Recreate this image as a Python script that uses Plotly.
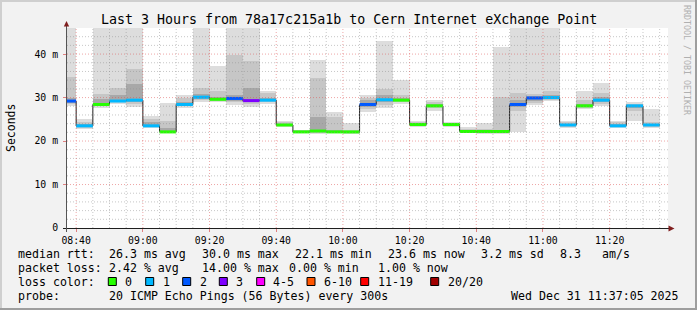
import plotly.graph_objects as go
import pandas as pd

DAY = "2025-12-31 "
STEP_MS = 300000  # 5-minute step

# ---- data ----
block_start = ["08:35", "08:40", "08:45", "08:50", "08:55", "09:00", "09:05", "09:10", "09:15",
               "09:20", "09:25", "09:30", "09:35", "09:40", "09:45", "09:50", "09:55", "10:00",
               "10:05", "10:10", "10:15", "10:20", "10:25", "10:30", "10:35", "10:40", "10:45",
               "10:50", "10:55", "11:00", "11:05", "11:10", "11:15", "11:20", "11:25", "11:30"]
median_ms = [29.2, 23.5, 28.4, 29.2, 29.4, 23.5, 22.1, 28.4, 30.1,
             29.6, 29.8, 29.3, 29.4, 23.7, 22.1, 22.3, 22.1, 22.1,
             28.4, 29.5, 29.4, 23.8, 28.1, 23.8, 22.2, 22.2, 22.2,
             28.4, 29.9, 30.0, 23.7, 28.1, 29.4, 23.5, 28.1, 23.7]
loss_count = [2, 1, 0, 1, 1, 1, 0, 1, 1,
              0, 2, 3, 1, 0, 0, 0, 0, 0,
              2, 1, 0, 0, 0, 0, 0, 0, 0,
              2, 2, 1, 1, 0, 1, 1, 1, 1]
smoke_min = [28.1, 22.8, 27.6, 28.6, 27.9, 23.0, 21.9, 27.6, 28.9,
             29.0, 28.3, 27.9, 28.6, 23.2, 21.9, 21.6, 21.8, 21.6,
             26.6, 27.5, 28.5, 23.2, 27.0, 23.3, 21.9, 21.7, 21.6,
             22.0, 28.3, 29.1, 22.9, 27.4, 28.0, 22.9, 24.7, 23.1]
smoke_lo = [28.6, 23.1, 28.0, 28.9, 28.5, 23.2, 22.0, 28.0, 29.4,
            29.3, 28.9, 28.6, 29.0, 23.4, 22.0, 21.9, 22.0, 21.9,
            27.3, 28.3, 28.9, 23.4, 27.5, 23.5, 22.0, 21.9, 21.8,
            27.0, 28.8, 29.4, 23.2, 27.7, 28.6, 23.2, 27.0, 23.3]
smoke_core_lo = [28.8, 23.2, 28.2, 29.0, 28.9, 23.3, 22.0, 28.2, 29.6,
                 29.4, 29.2, 29.0, 29.2, 23.5, 22.0, 22.0, 22.0, 22.0,
                 27.8, 29.0, 29.1, 23.5, 27.8, 23.6, 22.1, 22.0, 22.0,
                 27.8, 29.3, 29.7, 23.4, 27.9, 29.0, 23.3, 27.6, 23.4]
smoke_core_hi = [30.0, 23.9, 29.6, 30.6, 33.1, 24.3, 23.0, 29.0, 30.8,
                 30.2, 30.5, 32.3, 30.0, 24.0, 22.3, 25.5, 22.6, 22.3,
                 29.4, 30.6, 29.9, 24.0, 28.6, 23.9, 22.4, 22.4, 22.6,
                 29.4, 30.4, 30.6, 24.0, 28.6, 30.1, 23.9, 28.4, 24.0]
smoke_hi = [34.8, 24.3, 30.8, 32.1, 36.6, 25.0, 24.7, 30.0, 32.1,
            31.6, 39.8, 38.5, 31.0, 24.3, 22.5, 34.6, 25.5, 22.5,
            30.0, 32.0, 30.6, 24.3, 29.0, 24.1, 22.8, 22.8, 30.1,
            31.0, 30.8, 31.5, 24.3, 29.4, 31.0, 24.3, 28.6, 24.4]
smoke_max = [48.0, 25.1, 48.0, 48.0, 48.0, 25.8, 28.7, 30.6, 48.0,
             37.3, 48.0, 48.0, 31.6, 24.7, 22.6, 38.7, 26.7, 24.1,
             30.6, 43.1, 34.0, 24.7, 29.4, 24.4, 23.3, 24.1, 41.7,
             48.0, 48.0, 48.0, 24.7, 31.4, 33.3, 24.7, 28.9, 27.4]

loss_labels = ["0", "1", "2", "3", "4-5", "6-10", "11-19", "20/20"]
loss_colors = ["#26ff00", "#00b8ff", "#0059ff", "#7e00ff", "#ff00ff", "#ff5500", "#ff0000", "#a10000"]

y_tick_vals = [0, 10, 20, 30, 40]
y_tick_text = ["0", "10 m", "20 m", "30 m", "40 m"]
x_tick_times = ["08:40", "09:00", "09:20", "09:40", "10:00", "10:20", "10:40", "11:00", "11:20"]

title_text = "Last 3 Hours from 78a17c215a1b to Cern Internet eXchange Point"
stats_rtt = ["median rtt:", "26.3 ms avg", "30.0 ms max", "22.1 ms min", "23.6 ms now",
             "3.2 ms sd", "8.3", "am/s"]
stats_loss = ["packet loss:", "2.42 % avg", "14.00 % max", "0.00 % min", "1.00 % now"]
probe_text = ["probe:", "20 ICMP Echo Pings (56 Bytes) every 300s"]
date_text = "Wed Dec 31 11:37:05 2025"

# ---- geometry helpers (pixel layout of the image) ----
W, H = 697, 310
PL, PR, PT, PB = 67, 668, 28, 228
X_RANGE = [DAY + "08:37:15", DAY + "11:37:30"]
Y_RANGE = [0, 46]


def xp(px):
    return (px - PL) / (PR - PL)


def yp(py):
    return (PB - py) / (PB - PT)


starts = pd.to_datetime([DAY + t for t in block_start])
centers = starts + pd.Timedelta(milliseconds=STEP_MS / 2)
ends = starts + pd.Timedelta(milliseconds=STEP_MS)

fig = go.Figure()

# smoke bands
bands = [(smoke_min, smoke_max, "#dddddd"),
         (smoke_lo, smoke_hi, "#c6c6c6"),
         (smoke_core_lo, smoke_core_hi, "#a8a8a8")]
for lo, hi, col in bands:
    fig.add_trace(go.Bar(x=centers, base=lo, y=[h - l for l, h in zip(lo, hi)],
                         width=STEP_MS, marker=dict(color=col, line=dict(width=0)),
                         hoverinfo="skip", showlegend=False))

# black median step line
fig.add_trace(go.Scatter(x=list(starts) + [ends[-1]], y=median_ms + [median_ms[-1]],
                         mode="lines", line=dict(color="#202020", width=1, shape="hv"),
                         hoverinfo="skip", showlegend=False))

# colored median segments by loss
for lvl in sorted(set(loss_count)):
    xs, ys = [], []
    for s, e, m, l in zip(starts, ends, median_ms, loss_count):
        if l == lvl:
            xs += [s, e, None]
            ys += [m, m, None]
    fig.add_trace(go.Scatter(x=xs, y=ys, mode="lines",
                             line=dict(color=loss_colors[lvl], width=3),
                             hoverinfo="skip", showlegend=False))

shapes = []
MINOR_GRID = "rgba(143,143,143,0.5)"
MAJOR_GRID = "rgba(222,79,79,0.5)"
# horizontal grid (above traces, like rrdtool)
for v in range(2, 46, 2):
    col = MAJOR_GRID if v % 10 == 0 else MINOR_GRID
    shapes.append(dict(type="line", xref="paper", yref="y", x0=0, x1=1, y0=v, y1=v,
                       line=dict(color=col, width=1, dash="1px,2px"), layer="above"))
# vertical grid every 5 min
grid_times = pd.date_range(DAY + "08:40", DAY + "11:35", freq="5min")
major_set = set(pd.to_datetime([DAY + t for t in x_tick_times]))
for t in grid_times:
    col = MAJOR_GRID if t in major_set else MINOR_GRID
    shapes.append(dict(type="line", xref="x", yref="paper", x0=t, x1=t, y0=0, y1=1,
                       line=dict(color=col, width=1, dash="1px,2px"), layer="above"))

# axes lines and arrows
AXIS = "#1f1f1f"
ARROW = "#801f1f"
shapes.append(dict(type="line", xref="paper", yref="paper", x0=xp(63), x1=xp(670),
                   y0=yp(228.5), y1=yp(228.5), line=dict(color=AXIS, width=1), layer="above"))
shapes.append(dict(type="line", xref="paper", yref="paper", x0=xp(66.5), x1=xp(66.5),
                   y0=yp(232), y1=yp(24), line=dict(color="#555555", width=1), layer="above"))
shapes.append(dict(type="path", xref="paper", yref="paper",
                   path=f"M {xp(63.8)} {yp(26.5)} L {xp(69.2)} {yp(26.5)} L {xp(66.5)} {yp(21)} Z",
                   fillcolor=ARROW, line=dict(width=0), layer="above"))
shapes.append(dict(type="path", xref="paper", yref="paper",
                   path=f"M {xp(668.5)} {yp(225.5)} L {xp(668.5)} {yp(231.5)} L {xp(674.5)} {yp(228.5)} Z",
                   fillcolor=ARROW, line=dict(width=0), layer="above"))

# frame shading
shapes += [
    dict(type="rect", xref="paper", yref="paper", x0=xp(0), x1=xp(W), y0=yp(0), y1=yp(2),
         fillcolor="#cfcfcf", line=dict(width=0)),
    dict(type="rect", xref="paper", yref="paper", x0=xp(0), x1=xp(2), y0=yp(0), y1=yp(H),
         fillcolor="#cfcfcf", line=dict(width=0)),
    dict(type="rect", xref="paper", yref="paper", x0=xp(0), x1=xp(W), y0=yp(H - 2), y1=yp(H),
         fillcolor="#9e9e9e", line=dict(width=0)),
    dict(type="rect", xref="paper", yref="paper", x0=xp(W - 2), x1=xp(W), y0=yp(0), y1=yp(H),
         fillcolor="#9e9e9e", line=dict(width=0)),
]

# legend boxes
box_x = [108.3, 145.7, 182.7, 219.3, 256.7, 307, 360.7, 430.7]
label_x = [123.3, 160.7, 197.7, 234.3, 270.7, 321.7, 375.7, 445.7]
for bx, col in zip(box_x, loss_colors):
    shapes.append(dict(type="rect", xref="paper", yref="paper", x0=xp(bx), x1=xp(bx + 8),
                       y0=yp(277.5), y1=yp(285.5), fillcolor=col,
                       line=dict(color="#000000", width=1)))

MONO = "DejaVu Sans Mono"
LEG = 11.6
ann = []


def txt(s, px, py, size=LEG, anchor="left", color="#000000", angle=0):
    ann.append(dict(text=s, x=xp(px), y=yp(py), xref="paper", yref="paper",
                    xanchor=anchor, yanchor="middle", showarrow=False, textangle=angle,
                    font=dict(family=MONO, size=size, color=color)))


txt(title_text, 348.5, 19, size=13.3, anchor="center")
txt("Seconds", 11, 128, size=11.5, anchor="center", angle=-90)
txt("RRDTOOL / TOBI OETIKER", 687, 60, size=8.3, anchor="center", color="#b0b0b0", angle=90)

row1_x = [16, 107.3, 200, 293.3, 386, 479.3, 558.3, 600]
for s, px in zip(stats_rtt, row1_x):
    txt(s, px, 254.3)
row2_x = [16, 107.3, 200, 286.7, 376]
for s, px in zip(stats_loss, row2_x):
    txt(s, px, 268.3)
txt("loss color:", 16, 281.7)
for s, px in zip(loss_labels, label_x):
    txt(s, px, 281.7)
txt(probe_text[0], 16, 296)
txt(probe_text[1], 107.3, 296)
txt(date_text, 680.5, 296, anchor="right")

fig.update_layout(
    width=W, height=H,
    margin=dict(l=PL, r=W - PR, t=PT, b=H - PB, pad=0),
    paper_bgcolor="#f2f2f2", plot_bgcolor="#ffffff",
    barmode="overlay", bargap=0,
    showlegend=False,
    shapes=shapes, annotations=ann,
    xaxis=dict(type="date", range=X_RANGE, showgrid=False, zeroline=False, showline=False,
               tickmode="array", tickvals=[DAY + t for t in x_tick_times], ticktext=x_tick_times,
               ticks="outside", ticklen=3, tickcolor="#e08080",
               tickfont=dict(family=MONO, size=9.8, color="#000000")),
    yaxis=dict(range=Y_RANGE, showgrid=False, zeroline=False, showline=False,
               tickmode="array", tickvals=y_tick_vals, ticktext=y_tick_text,
               ticks="outside", ticklen=3, tickcolor="#e08080", ticklabelstandoff=3,
               tickfont=dict(family=MONO, size=9.8, color="#000000")),
)

fig.write_html("out.html")
